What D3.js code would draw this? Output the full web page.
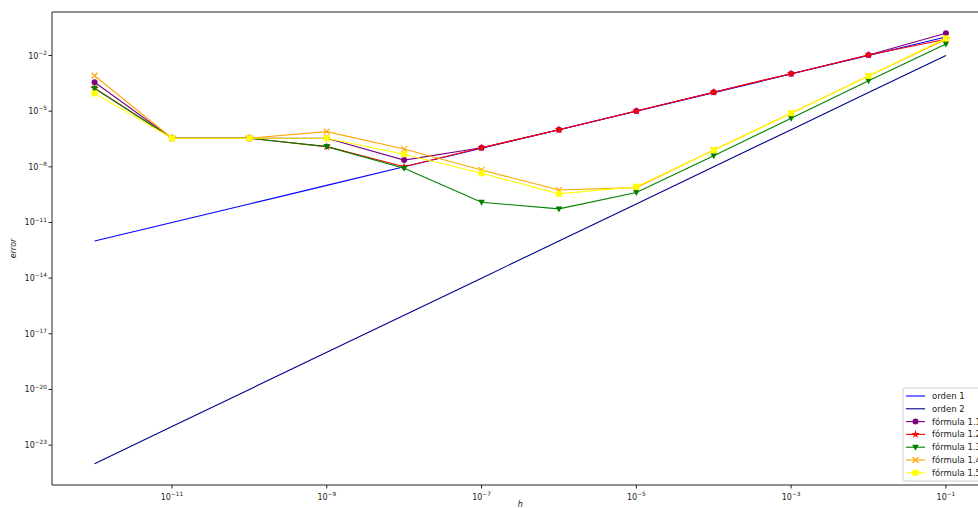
<!DOCTYPE html>
<html>
<head>
<meta charset="utf-8">
<script src="https://cdn.jsdelivr.net/npm/d3@7"></script>
<style>
  body { margin: 0; background: #fff; }
  text { font-family: "DejaVu Sans", sans-serif; }
</style>
</head>
<body>
<div id="chart"></div>
<script>
// step sizes h
const h = [1e-12, 1e-11, 1e-10, 1e-9, 1e-8, 1e-7, 1e-6, 1e-5, 1e-4, 1e-3, 1e-2, 1e-1];

// reference lines
const orden1 = [1e-12, 1e-11, 1e-10, 1e-9, 1e-8, 1e-7, 1e-6, 1e-5, 1e-4, 1e-3, 1e-2, 1e-1];
const orden2 = [1e-24, 1e-22, 1e-20, 1e-18, 1e-16, 1e-14, 1e-12, 1e-10, 1e-8, 1e-6, 1e-4, 1e-2];

// errors
const formula11 = [3.6e-4, 3.5e-7, 3.5e-7, 3.5e-7, 2.3e-8, 1.07e-7, 1.0e-6, 1.02e-5, 1.05e-4, 1.05e-3, 1.07e-2, 1.58e-1];
const formula12 = [1.7e-4, 3.5e-7, 3.5e-7, 1.23e-7, 1.02e-8, 1.07e-7, 1.0e-6, 1.02e-5, 1.05e-4, 1.05e-3, 1.07e-2, 7.6e-2];
const formula13 = [1.7e-4, 3.5e-7, 3.5e-7, 1.23e-7, 8.3e-9, 1.23e-10, 5.4e-11, 4.1e-10, 4.0e-8, 4.2e-6, 4.3e-4, 4.2e-2];
const formula14 = [8.1e-4, 3.5e-7, 3.5e-7, 7.9e-7, 9.1e-8, 6.8e-9, 5.6e-10, 7.6e-10, 8.1e-8, 7.8e-6, 7.9e-4, 7.6e-2];
const formula15 = [9.1e-5, 3.5e-7, 3.5e-7, 3.5e-7, 4.8e-8, 4.5e-9, 3.5e-10, 8.5e-10, 7.8e-8, 7.8e-6, 7.9e-4, 8.5e-2];

const xTickExp = [-11, -9, -7, -5, -3, -1];
const yTickExp = [-23, -20, -17, -14, -11, -8, -5, -2];

const W = 978, H = 508;
const plot = { left: 52, right: 988.5, top: 12, bottom: 485 };

const svg = d3.select("#chart")
  .append("svg")
  .attr("width", W)
  .attr("height", H);

const x = d3.scaleLog()
  .domain([Math.pow(10, -12.55), Math.pow(10, -0.45)])
  .range([plot.left, plot.right]);

const y = d3.scaleLog()
  .domain([Math.pow(10, -25.15), Math.pow(10, 0.345)])
  .range([plot.bottom, plot.top]);

const series = [
  { name: "orden 1", values: orden1, color: "blue", marker: null },
  { name: "orden 2", values: orden2, color: "darkblue", marker: null },
  { name: "fórmula 1.1", values: formula11, color: "purple", marker: "circle" },
  { name: "fórmula 1.2", values: formula12, color: "red", marker: "star" },
  { name: "fórmula 1.3", values: formula13, color: "green", marker: "tri" },
  { name: "fórmula 1.4", values: formula14, color: "orange", marker: "x" },
  { name: "fórmula 1.5", values: formula15, color: "yellow", marker: "square" }
];

svg.append("clipPath").attr("id", "clip")
  .append("rect")
  .attr("x", plot.left).attr("y", plot.top)
  .attr("width", plot.right - plot.left).attr("height", plot.bottom - plot.top);

const line = d3.line()
  .x((d, i) => x(h[i]))
  .y(d => y(d));

function drawMarker(g, type, color, cx, cy) {
  if (type === "circle") {
    g.append("circle").attr("cx", cx).attr("cy", cy).attr("r", 3).attr("fill", color);
  } else if (type === "square") {
    g.append("rect").attr("x", cx - 3).attr("y", cy - 3).attr("width", 6).attr("height", 6).attr("fill", color);
  } else if (type === "tri") {
    g.append("path").attr("d", `M${cx - 3.3},${cy - 2.5}L${cx + 3.3},${cy - 2.5}L${cx},${cy + 3.5}Z`).attr("fill", color);
  } else if (type === "star") {
    g.append("path").attr("d", d3.symbol(d3.symbolStar, 22)()).attr("transform", `translate(${cx},${cy})`).attr("fill", color);
  } else if (type === "x") {
    g.append("path").attr("d", `M${cx - 3},${cy - 3}L${cx + 3},${cy + 3}M${cx - 3},${cy + 3}L${cx + 3},${cy - 3}`)
      .attr("stroke", color).attr("stroke-width", 1.1).attr("fill", "none");
  }
}

const plotG = svg.append("g").attr("clip-path", "url(#clip)");

series.forEach(s => {
  const g = plotG.append("g");
  g.append("path")
    .datum(s.values)
    .attr("d", line)
    .attr("fill", "none")
    .attr("stroke", s.color)
    .attr("stroke-width", 1.1);
  if (s.marker) {
    s.values.forEach((v, i) => drawMarker(g, s.marker, s.color, x(h[i]), y(v)));
  }
});

// spines
svg.append("line").attr("x1", plot.left).attr("x2", plot.left).attr("y1", plot.top).attr("y2", plot.bottom)
  .attr("stroke", "#222").attr("stroke-width", 1);
svg.append("line").attr("x1", plot.left).attr("x2", plot.right).attr("y1", plot.bottom).attr("y2", plot.bottom)
  .attr("stroke", "#222").attr("stroke-width", 1);
svg.append("line").attr("x1", plot.left).attr("x2", plot.right).attr("y1", plot.top).attr("y2", plot.top)
  .attr("stroke", "#222").attr("stroke-width", 1);

// x ticks
const xt = svg.append("g").selectAll("g")
  .data(xTickExp).join("g")
  .attr("transform", d => `translate(${x(Math.pow(10, d))},${plot.bottom})`);
xt.append("line").attr("y2", 3.5).attr("stroke", "#222");
const xl = xt.append("text").attr("y", 14.5).attr("text-anchor", "middle").attr("font-size", 8).attr("fill", "#222");
xl.append("tspan").text("10");
xl.append("tspan").attr("dy", -3.8).attr("font-size", 5.8).text(d => "\u2212" + Math.abs(d));

// y ticks
const yt = svg.append("g").selectAll("g")
  .data(yTickExp).join("g")
  .attr("transform", d => `translate(${plot.left},${y(Math.pow(10, d))})`);
yt.append("line").attr("x2", -3.5).attr("stroke", "#222");
const yl = yt.append("text").attr("x", -5).attr("y", 3).attr("text-anchor", "end").attr("font-size", 8).attr("fill", "#222");
yl.append("tspan").text("10");
yl.append("tspan").attr("dy", -3.8).attr("font-size", 5.8).text(d => "\u2212" + Math.abs(d));

// axis labels
svg.append("text")
  .attr("transform", `translate(16,${(plot.top + plot.bottom) / 2}) rotate(-90)`)
  .attr("text-anchor", "middle")
  .attr("font-size", 8)
  .attr("font-style", "italic")
  .attr("fill", "#222")
  .text("error");

svg.append("text")
  .attr("x", (plot.left + plot.right) / 2)
  .attr("y", 507)
  .attr("text-anchor", "middle")
  .attr("font-size", 8)
  .attr("font-style", "italic")
  .attr("fill", "#222")
  .text("h");

// legend
const legend = svg.append("g").attr("transform", "translate(903,388)");
legend.append("rect")
  .attr("width", 90).attr("height", 93)
  .attr("rx", 2)
  .attr("fill", "#fff").attr("fill-opacity", 0.8)
  .attr("stroke", "#ccc");

series.forEach((s, i) => {
  const ly = 8 + i * 12.8;
  const g = legend.append("g");
  g.append("line").attr("x1", 3).attr("x2", 22).attr("y1", ly).attr("y2", ly)
    .attr("stroke", s.color).attr("stroke-width", 1.1);
  if (s.marker) drawMarker(g, s.marker, s.color, 12.5, ly);
  g.append("text").attr("x", 29).attr("y", ly + 3)
    .attr("font-size", 8.5).attr("fill", "#222")
    .text(s.name);
});
</script>
</body>
</html>
